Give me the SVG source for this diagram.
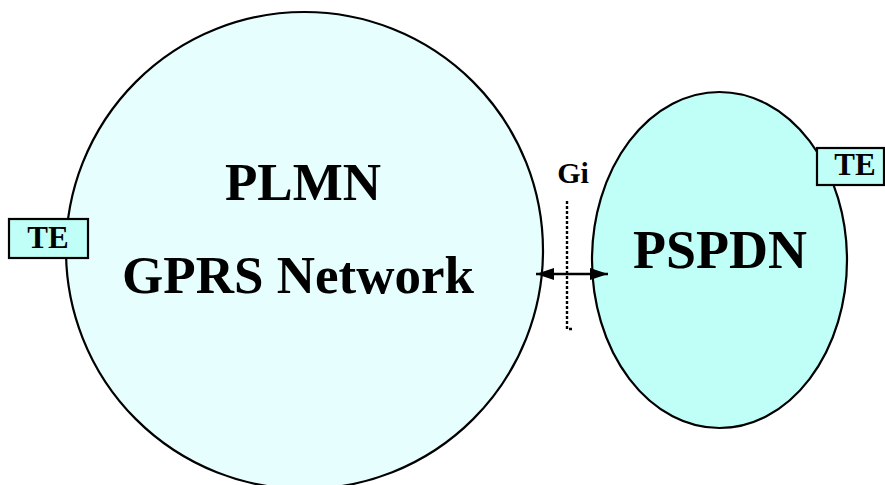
<svg xmlns="http://www.w3.org/2000/svg" width="885" height="485" viewBox="0 0 885 485">
<defs>
<style>
.net{stroke:#000;stroke-width:2.2}
.lbl{font-family:"Liberation Serif","Times New Roman",serif;font-weight:bold;fill:#000;text-anchor:middle}
.te{fill:#c0fff8;stroke:#000;stroke-width:2.2}
</style>
<marker id="ah" viewBox="0 0 18 12" refX="18" refY="6" markerWidth="18" markerHeight="12" orient="auto-start-reverse" markerUnits="userSpaceOnUse">
<path d="M0,0 L18,6 L0,12 Z" fill="#000"/>
</marker>
</defs>
<rect width="885" height="485" fill="#fff"/>
<g id="plmn">
<circle class="net" cx="304.5" cy="250.5" r="238.5" fill="#e6fefe"/>
<text class="lbl" x="303" y="200" font-size="53">PLMN</text>
<text class="lbl" x="298" y="293" font-size="53">GPRS Network</text>
</g>
<g id="pspdn">
<ellipse class="net" cx="719.5" cy="260" rx="127.5" ry="168" fill="#c0fff8"/>
<text class="lbl" x="720" y="268" font-size="54">PSPDN</text>
</g>
<g id="te-left">
<rect class="te" x="9" y="219" width="79" height="39"/>
<text class="lbl" x="48" y="248" font-size="31">TE</text>
</g>
<g id="te-right">
<rect class="te" x="817" y="148" width="67" height="37"/>
<text class="lbl" x="855" y="175" font-size="31">TE</text>
</g>
<g id="gi">
<text class="lbl" x="573" y="183" font-size="30">Gi</text>
<path d="M567,201 V329 H572" fill="none" stroke="#000" stroke-width="2.4" stroke-dasharray="3,2"/>
</g>
<g id="connectors">
<line x1="536" y1="274" x2="608" y2="274" stroke="#000" stroke-width="2.4" marker-start="url(#ah)" marker-end="url(#ah)"/>
</g>
</svg>
